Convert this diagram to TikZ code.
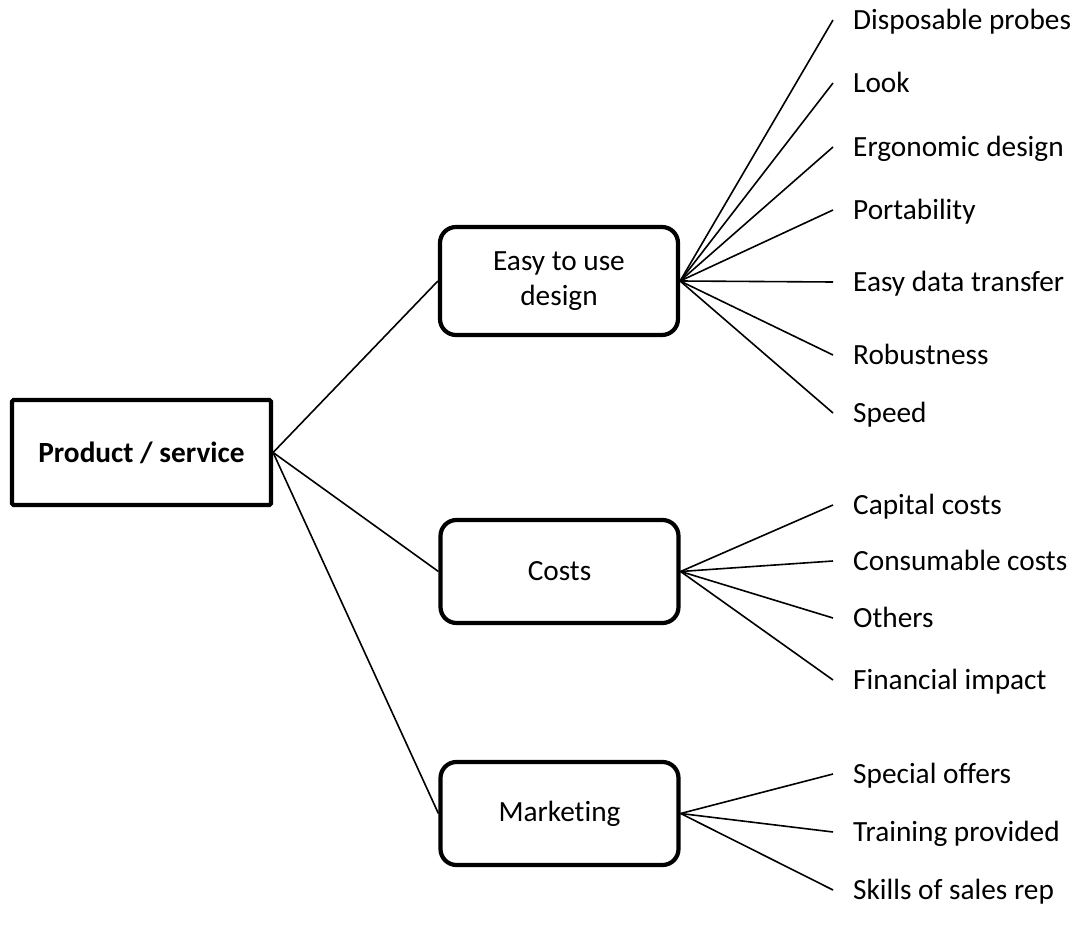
\documentclass[tikz,border=0pt]{standalone}
\usepackage{fontspec}
\setmainfont{Carlito}[Ligatures=NoCommon]
\usetikzlibrary{calc}

\begin{document}
\begin{tikzpicture}[x=1pt,y=-1pt,
    every node/.style={font=\fontsize{29.3}{35}\selectfont},
    root/.style={draw,line width=4.2pt,rounded corners=1.5pt,minimum width=259pt,minimum height=105pt,
        font=\fontsize{29.3}{35}\selectfont\bfseries},
    branch/.style={draw,line width=4.2pt,rounded corners=16pt,minimum width=238pt,minimum height=103pt,align=center},
    leaf/.style={anchor=west,inner xsep=20pt,inner ysep=0pt,text height=19pt,text depth=0pt},
    link/.style={line width=1.6pt}]
    \useasboundingbox (0,0) rectangle (1080,928);
    \node[root] (P) at (141.5,452.5) {Product / service};
    \node[branch,minimum height=108pt] (E) at (559,281) {Easy to use\\design};
    \node[branch] (C) at (559.5,571.5) {Costs};
    \node[branch] (M) at (559.5,813.5) {Marketing};
    \draw[link] (P.east) -- (E.west);
    \draw[link] (P.east) -- (C.west);
    \draw[link] (P.east) -- (M.west);
    \foreach \n/\y/\t in {e1/20/Disposable probes, e2/83/Look, e3/147/Ergonomic design,
        e4/210/Portability, e5/282/Easy data transfer, e6/355/Robustness, e7/413/Speed}{
        \node[leaf] (\n) at (833,\y) {\t};
        \draw[link] (E.east) -- (\n.west);
    }
    \foreach \n/\y/\t in {c1/505/Capital costs, c2/561/Consumable costs, c3/618/Others,
        c4/680/Financial impact}{
        \node[leaf] (\n) at (833,\y) {\t};
        \draw[link] (C.east) -- (\n.west);
    }
    \foreach \n/\y/\t in {m1/774/Special offers, m2/832/Training provided, m3/890/Skills of sales rep}{
        \node[leaf] (\n) at (833,\y) {\t};
        \draw[link] (M.east) -- (\n.west);
    }
\end{tikzpicture}
\end{document}
